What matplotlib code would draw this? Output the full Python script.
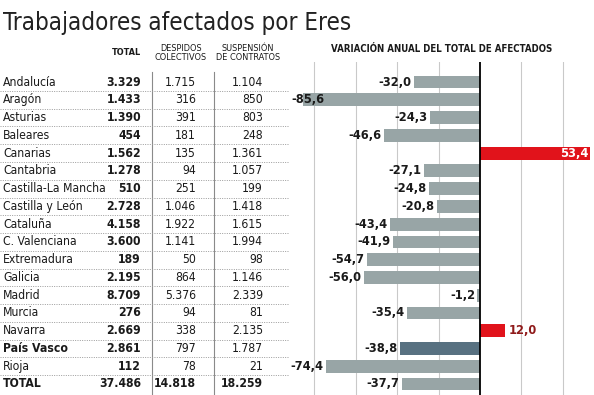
import matplotlib
matplotlib.use("Agg")
import matplotlib.pyplot as plt
from matplotlib import font_manager

# datos (Eres por comunidad)
regions = ["Andalucía", "Aragón", "Asturias", "Baleares", "Canarias", "Cantabria",
           "Castilla-La Mancha", "Castilla y León", "Cataluña", "C. Valenciana",
           "Extremadura", "Galicia", "Madrid", "Murcia", "Navarra", "País Vasco",
           "Rioja", "TOTAL"]
total = [3329, 1433, 1390, 454, 1562, 1278, 510, 2728, 4158, 3600,
         189, 2195, 8709, 276, 2669, 2861, 112, 37486]
despidos = [1715, 316, 391, 181, 135, 94, 251, 1046, 1922, 1141,
            50, 864, 5376, 94, 338, 797, 78, 14818]
suspension = [1104, 850, 803, 248, 1361, 1057, 199, 1418, 1615, 1994,
              98, 1146, 2339, 81, 2135, 1787, 21, 18259]
variacion = [-32.0, -85.6, -24.3, -46.6, 53.4, -27.1, -24.8, -20.8, -43.4, -41.9,
             -54.7, -56.0, -1.2, -35.4, 12.0, -38.8, -74.4, -37.7]
highlight = "País Vasco"

cond = [f for f in font_manager.fontManager.ttflist
        if f.name == "DejaVu Sans" and f.stretch == "condensed"]
plt.rcParams["font.family"] = ["DejaVu Sans"]
if cond:
    plt.rcParams["font.stretch"] = "condensed"
    shrink = 1.0
else:
    shrink = 0.9

GREY = "#98a5a6"
RED = "#e1131b"
SLATE = "#587181"
INK = "#1a1a1a"


def miles(n):
    return f"{n:,}".replace(",", ".")


def coma(v):
    return f"{v:.1f}".replace(".", ",")


W, H = 594, 395
fig = plt.figure(figsize=(W / 100, H / 100), dpi=100)
fig.patch.set_facecolor("white")

n = len(regions)
ylim = (n - 1 + 0.62, -1.13)
ax_h = 333 / H
fs = 8.7 * shrink

fig.text(3 / W, 1 - 30 / H, "Trabajadores afectados por Eres", fontsize=17.3 * shrink,
         color="#222222", va="baseline", ha="left")

# --- tabla ---
ax_t = fig.add_axes([0, 0, 290 / W, ax_h])
ax_t.set_xlim(0, 290)
ax_t.set_ylim(*ylim)
ax_t.axis("off")

hy = -1.68
ax_t.text(126, hy, "TOTAL", fontsize=6.6, weight="bold", ha="center", va="center", color=INK)
ax_t.text(181, hy + 0.02, "DESPIDOS\nCOLECTIVOS", fontsize=6.6, ha="center", va="center",
          linespacing=1.0, color=INK)
ax_t.text(248, hy + 0.02, "SUSPENSIÓN\nDE CONTRATOS", fontsize=6.6, ha="center", va="center",
          linespacing=1.0, color=INK)

for xs in (152, 214):
    ax_t.plot([xs, xs], [-0.55, ylim[0]], color="#8a8a8a", lw=0.8)

for i in range(n - 1):
    ax_t.plot([0, 288], [i + 0.5, i + 0.5], color="#9a9a9a", lw=0.7,
              linestyle=(0, (1, 1.4)))

for i, r in enumerate(regions):
    strong = r in (highlight, "TOTAL")
    ax_t.text(3, i, r, fontsize=fs, ha="left", va="center", color=INK,
              weight="bold" if strong else "normal")
    ax_t.text(141, i, miles(total[i]), fontsize=fs, ha="right", va="center",
              color=INK, weight="bold")
    ax_t.text(196, i, miles(despidos[i]), fontsize=fs, ha="right", va="center",
              color=INK, weight="bold" if r == "TOTAL" else "normal")
    ax_t.text(263, i, miles(suspension[i]), fontsize=fs, ha="right", va="center",
              color=INK, weight="bold" if r == "TOTAL" else "normal")

# --- barras ---
ax_b = fig.add_axes([290 / W, 0, 304 / W, ax_h])
ax_b.set_xlim(-91.8, 55.1)
ax_b.set_ylim(*ylim)
ax_b.axis("off")

for g in (-80, -60, -40, -20, 20, 40):
    ax_b.axvline(g, color="#c9c9c9", lw=0.8, zorder=0)

colors = []
for r, v in zip(regions, variacion):
    if r == highlight:
        colors.append(SLATE)
    elif v > 0:
        colors.append(RED)
    else:
        colors.append(GREY)
ax_b.barh(range(n), variacion, height=0.72, color=colors, zorder=2)
ax_b.axvline(0, color="black", lw=1.3, zorder=3)

ax_b.text(-18.5, -1.85, "VARIACIÓN ANUAL DEL TOTAL DE AFECTADOS", fontsize=6.9,
          weight="bold", ha="center", va="center", color=INK)

vfs = 9.2 * shrink
for i, v in enumerate(variacion):
    lab = coma(v)
    if v < -80:
        ax_b.text(-91.0, i, lab, fontsize=vfs, weight="bold", ha="left", va="center",
                  color=INK, zorder=4)
    elif v < 0:
        ax_b.text(v - 1.2, i, lab, fontsize=vfs, weight="bold", ha="right", va="center",
                  color=INK, zorder=4)
    elif v > 30:
        ax_b.text(v - 1.0, i, lab, fontsize=vfs, weight="bold", ha="right", va="center",
                  color="white", zorder=4)
    else:
        ax_b.text(v + 1.8, i, lab, fontsize=vfs, weight="bold", ha="left", va="center",
                  color="#8f1a1a", zorder=4)

fig.savefig("out.png", dpi=100)
